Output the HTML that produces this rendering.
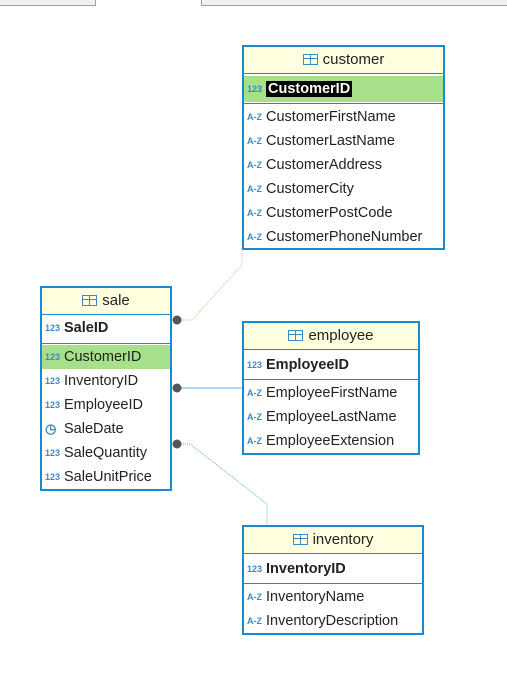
<!DOCTYPE html>
<html><head><meta charset="utf-8"><style>
body{margin:0;width:507px;height:695px;background:#fff;position:relative;overflow:hidden;font-family:"Liberation Sans",sans-serif;font-size:14.5px;color:#222}
.tab{position:absolute;top:-2px;height:6px;background:#f0f0f0;border:1px solid #a0a0a0}
.box{position:absolute;border:2px solid #1a8ad0;background:#fff;box-sizing:border-box}
.hd{background:#ffffe0;border-bottom:1px solid #1a8ad0;height:26px;line-height:26px;text-align:center;font-size:15px}
.row{position:absolute;left:0;right:0;height:24px;line-height:22px;padding-left:22px;white-space:nowrap}
.ic{position:absolute;left:3px;top:0;font-size:9px;color:#3a8ac8;font-weight:bold}
.sep{position:absolute;left:0;right:0;border-top:1px solid #1a8ad0}
.g{background:#a6e08a}
.b{font-weight:bold}
.tb{display:inline-block;width:13px;height:9px;border:1px solid #3a8ac8;vertical-align:-1px;margin-right:5px;background:linear-gradient(#3a8ac8,#3a8ac8) 0 3px/100% 1px no-repeat,linear-gradient(#3a8ac8,#3a8ac8) 6px 0/1px 100% no-repeat}
</style></head><body>
<div class="tab" style="left:-2px;width:96px"></div>
<div class="tab" style="left:201px;width:310px"></div>
<svg width="507" height="695" style="position:absolute;left:0;top:0">
<polyline points="177,320 192,320 242,265 242,250" fill="none" stroke="#9ad88a" stroke-dasharray="1,1"/>
<line x1="177" y1="388" x2="242" y2="388" stroke="#5ab4e0"/>
<polyline points="177,444 190,444 267,504 267,525" fill="none" stroke="#5ab4e0" stroke-dasharray="1,1"/>
<circle cx="177" cy="320" r="4.5" fill="#555"/><circle cx="177" cy="388" r="4.5" fill="#555"/><circle cx="177" cy="444" r="4.5" fill="#555"/>
</svg>

<div class="box" style="left:242px;top:45px;width:203px;height:205px">
<div class="hd"><span class="tb"></span>customer</div>
<div class="row g" style="top:29px;height:26px;line-height:26px"><span class="ic" style="line-height:26px">123</span><span class="b" style="background:#000;color:#fff;padding:0 2px">CustomerID</span></div>
<div class="sep" style="top:56px"></div>
<div class="row" style="top:59px"><span class="ic">A-Z</span>CustomerFirstName</div>
<div class="row" style="top:83px"><span class="ic">A-Z</span>CustomerLastName</div>
<div class="row" style="top:107px"><span class="ic">A-Z</span>CustomerAddress</div>
<div class="row" style="top:131px"><span class="ic">A-Z</span>CustomerCity</div>
<div class="row" style="top:155px"><span class="ic">A-Z</span>CustomerPostCode</div>
<div class="row" style="top:179px"><span class="ic">A-Z</span>CustomerPhoneNumber</div>
</div>

<div class="box" style="left:40px;top:286px;width:132px;height:205px">
<div class="hd"><span class="tb"></span>sale</div>
<div class="row" style="top:29px"><span class="ic">123</span><span class="b">SaleID</span></div>
<div class="sep" style="top:55px"></div>
<div class="row g" style="top:57px;line-height:24px"><span class="ic" style="line-height:24px">123</span>CustomerID</div>
<div class="row" style="top:82px"><span class="ic">123</span>InventoryID</div>
<div class="row" style="top:106px"><span class="ic">123</span>EmployeeID</div>
<div class="row" style="top:130px"><span class="ic" style="font-size:13px">◷</span>SaleDate</div>
<div class="row" style="top:154px"><span class="ic">123</span>SaleQuantity</div>
<div class="row" style="top:178px"><span class="ic">123</span>SaleUnitPrice</div>
</div>

<div class="box" style="left:242px;top:321px;width:178px;height:134px">
<div class="hd"><span class="tb"></span>employee</div>
<div class="row" style="top:31px"><span class="ic">123</span><span class="b">EmployeeID</span></div>
<div class="sep" style="top:56px"></div>
<div class="row" style="top:59px"><span class="ic">A-Z</span>EmployeeFirstName</div>
<div class="row" style="top:83px"><span class="ic">A-Z</span>EmployeeLastName</div>
<div class="row" style="top:107px"><span class="ic">A-Z</span>EmployeeExtension</div>
</div>

<div class="box" style="left:242px;top:525px;width:182px;height:110px">
<div class="hd"><span class="tb"></span>inventory</div>
<div class="row" style="top:31px"><span class="ic">123</span><span class="b">InventoryID</span></div>
<div class="sep" style="top:56px"></div>
<div class="row" style="top:59px"><span class="ic">A-Z</span>InventoryName</div>
<div class="row" style="top:83px"><span class="ic">A-Z</span>InventoryDescription</div>
</div>
</body></html>
